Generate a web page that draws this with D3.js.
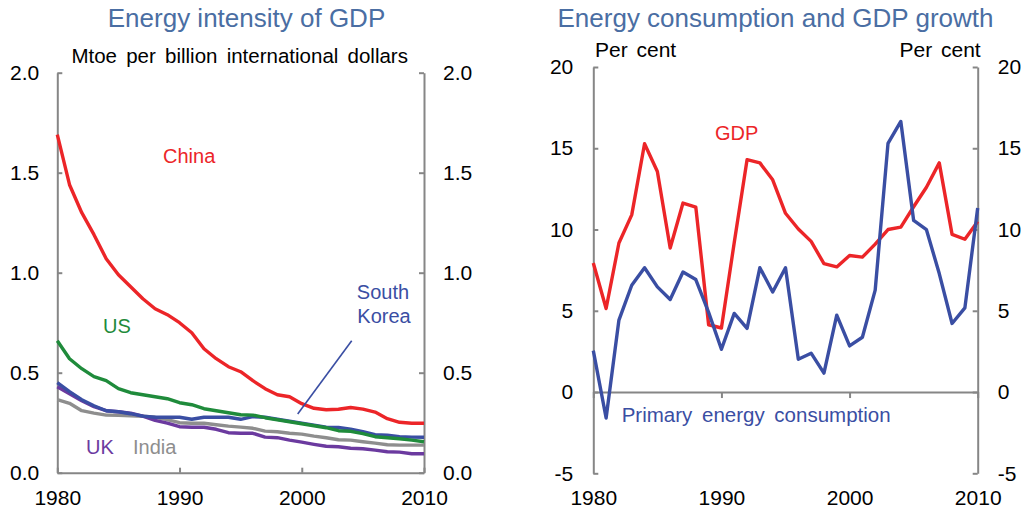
<!DOCTYPE html>
<html>
<head>
<meta charset="utf-8">
<script src="https://cdn.jsdelivr.net/npm/d3@7"></script>
<style>
  body { margin: 0; background: #fff; }
  svg { display: block; font-family: "Liberation Sans", Arial, sans-serif; }
  .axis path, .axis line { stroke: #868686; stroke-width: 2; }
  .axis text { font-size: 21px; fill: #000; }
  .series { fill: none; stroke-width: 3.4; stroke-linejoin: round; }
</style>
</head>
<body>
<svg id="chart" width="1029" height="511"></svg>
<script>
// ---- data ----
var years = d3.range(1980, 2011);

var china = [1.69, 1.44, 1.30, 1.19, 1.07, 0.99, 0.93, 0.87, 0.82, 0.79, 0.75, 0.70, 0.62, 0.57, 0.53, 0.505,
  0.46, 0.42, 0.39, 0.38, 0.345, 0.322, 0.315, 0.317, 0.326, 0.318, 0.303, 0.27, 0.252, 0.247, 0.247];
var us = [0.66, 0.57, 0.52, 0.48, 0.46, 0.42, 0.40, 0.39, 0.38, 0.37, 0.35, 0.34, 0.32, 0.31, 0.30, 0.29,
  0.288, 0.275, 0.265, 0.255, 0.245, 0.235, 0.225, 0.21, 0.207, 0.195, 0.18, 0.175, 0.17, 0.163, 0.155];
var korea = [0.45, 0.405, 0.365, 0.335, 0.31, 0.305, 0.295, 0.283, 0.277, 0.277, 0.277, 0.267, 0.277, 0.277, 0.277, 0.267,
  0.28, 0.277, 0.267, 0.257, 0.248, 0.238, 0.228, 0.226, 0.218, 0.205, 0.19, 0.188, 0.18, 0.178, 0.177];
var uk = [0.43, 0.395, 0.36, 0.33, 0.31, 0.305, 0.298, 0.283, 0.262, 0.248, 0.23, 0.227, 0.227, 0.217, 0.2, 0.197,
  0.197, 0.178, 0.175, 0.163, 0.153, 0.142, 0.132, 0.13, 0.122, 0.12, 0.113, 0.105, 0.103, 0.095, 0.095];
var india = [0.365, 0.347, 0.31, 0.298, 0.288, 0.287, 0.285, 0.282, 0.277, 0.265, 0.25, 0.247, 0.247, 0.24, 0.233, 0.228,
  0.222, 0.208, 0.205, 0.197, 0.193, 0.183, 0.175, 0.165, 0.163, 0.155, 0.148, 0.14, 0.138, 0.138, 0.138];

var gdpGrowth = [7.94, 5.14, 9.17, 10.9, 15.28, 13.57, 8.86, 11.63, 11.38, 4.14, 3.94, 9.2, 14.3, 14.1, 13.06, 11.0,
  10.03, 9.27, 7.9, 7.7, 8.4, 8.3, 9.1, 10.0, 10.15, 11.4, 12.6, 14.1, 9.7, 9.4, 10.5];
var energyGrowth = [2.55, -1.6, 4.43, 6.57, 7.65, 6.47, 5.69, 7.39, 6.92, 4.9, 2.63, 4.84, 3.92, 7.65, 6.16, 7.65,
  2.02, 2.39, 1.16, 4.73, 2.84, 3.37, 6.27, 15.3, 16.65, 10.56, 9.99, 7.29, 4.22, 5.18, 11.32];

var leftTicks = [0, 0.5, 1.0, 1.5, 2.0];
var rightTicks = [-5, 0, 5, 10, 15, 20];
var yearTicks = [1980, 1990, 2000, 2010];

var RED = '#ec2528', GREEN = '#1f8b3b', BLUE = '#3a4ea3', PURPLE = '#6b3a9f', GREY = '#8e8e8e', TITLE = '#4a6ea3';

var svg = d3.select('#chart');

function title(x, y, txt, size, color) {
  svg.append('text')
    .attr('x', x).attr('y', y)
    .attr('text-anchor', 'middle')
    .style('font-size', size + 'px')
    .style('fill', color)
    .text(txt);
}

function label(x, y, txt, color, anchor) {
  svg.append('text')
    .attr('x', x).attr('y', y)
    .attr('text-anchor', anchor || 'start')
    .style('font-size', '20px')
    .style('fill', color)
    .text(txt);
}

function drawSeries(g, xs, ys, values, color) {
  var line = d3.line()
    .x(function(d, i) { return xs(years[i]); })
    .y(function(d) { return ys(d); });
  g.append('path')
    .datum(values)
    .attr('class', 'series')
    .style('stroke', color)
    .attr('d', line);
}

// plain hyphen for negatives, like the original
var plain = function(d) { return String(d); };

// ---- left panel: energy intensity ----
var x1 = d3.scaleLinear().domain([1980, 2010]).range([57.3, 424]);
var y1 = d3.scaleLinear().domain([0, 2]).range([472.7, 72.7]);

var left = svg.append('g');

left.append('g')
  .attr('class', 'axis')
  .attr('transform', 'translate(' + x1.range()[0] + ',0)')
  .call(d3.axisLeft(y1).tickValues(leftTicks).tickFormat(d3.format('.1f'))
    .tickSizeInner(-5).tickSizeOuter(0).tickPadding(18));

left.append('g')
  .attr('class', 'axis')
  .attr('transform', 'translate(' + x1.range()[1] + ',0)')
  .call(d3.axisRight(y1).tickValues(leftTicks).tickFormat(d3.format('.1f'))
    .tickSizeInner(-5).tickSizeOuter(0).tickPadding(19));

left.append('g')
  .attr('class', 'axis')
  .attr('transform', 'translate(0,' + y1(0) + ')')
  .call(d3.axisBottom(x1).tickValues(yearTicks).tickFormat(plain)
    .tickSizeInner(-5).tickSizeOuter(0).tickPadding(17.5));

drawSeries(left, x1, y1, india, GREY);
drawSeries(left, x1, y1, uk, PURPLE);
drawSeries(left, x1, y1, korea, BLUE);
drawSeries(left, x1, y1, us, GREEN);
drawSeries(left, x1, y1, china, RED);

// leader line to South Korea
left.append('line')
  .attr('x1', 351.7).attr('y1', 340.7)
  .attr('x2', 297.7).attr('y2', 414)
  .style('stroke', BLUE)
  .style('stroke-width', 1.6);

title(246.5, 27, 'Energy intensity of GDP', 26, TITLE);
svg.append('text')
  .attr('x', 239.7).attr('y', 62.7)
  .attr('text-anchor', 'middle')
  .style('font-size', '20.5px')
  .style('word-spacing', '3.5px')
  .text('Mtoe per billion international dollars');

label(163, 163, 'China', RED);
label(103, 333, 'US', GREEN);
label(383, 299, 'South', BLUE, 'middle');
label(384, 323, 'Korea', BLUE, 'middle');
label(86, 453.5, 'UK', PURPLE);
label(133, 453.5, 'India', GREY);

// ---- right panel: growth ----
var x2 = d3.scaleLinear().domain([1980, 2010]).range([593.3, 977.7]);
var y2 = d3.scaleLinear().domain([-5, 20]).range([473.3, 67]);

var right = svg.append('g');

right.append('g')
  .attr('class', 'axis')
  .attr('transform', 'translate(' + x2.range()[0] + ',0)')
  .call(d3.axisLeft(y2).tickValues(rightTicks).tickFormat(plain)
    .tickSizeInner(-5).tickSizeOuter(0).tickPadding(20));

right.append('g')
  .attr('class', 'axis')
  .attr('transform', 'translate(' + x2.range()[1] + ',0)')
  .call(d3.axisRight(y2).tickValues(rightTicks).tickFormat(plain)
    .tickSizeInner(-5).tickSizeOuter(0).tickPadding(20));

right.append('g')
  .attr('class', 'axis')
  .attr('transform', 'translate(0,' + y2(0) + ')')
  .call(d3.axisBottom(x2).tickValues(yearTicks).tickFormat(plain)
    .tickSizeInner(6).tickSizeOuter(0).tickPadding(91.8));

drawSeries(right, x2, y2, gdpGrowth, RED);
drawSeries(right, x2, y2, energyGrowth, BLUE);

title(775.5, 27, 'Energy consumption and GDP growth', 26, TITLE);
svg.append('text')
  .attr('x', 595).attr('y', 56.7)
  .style('font-size', '21px')
  .style('word-spacing', '3px')
  .text('Per cent');
svg.append('text')
  .attr('x', 980.7).attr('y', 56.7)
  .attr('text-anchor', 'end')
  .style('font-size', '21px')
  .style('word-spacing', '3px')
  .text('Per cent');

label(715, 140, 'GDP', RED);
svg.append('text')
  .attr('x', 621.7).attr('y', 421.7)
  .style('font-size', '20.5px')
  .style('word-spacing', '4px')
  .style('fill', BLUE)
  .text('Primary energy consumption');
</script>
</body>
</html>
